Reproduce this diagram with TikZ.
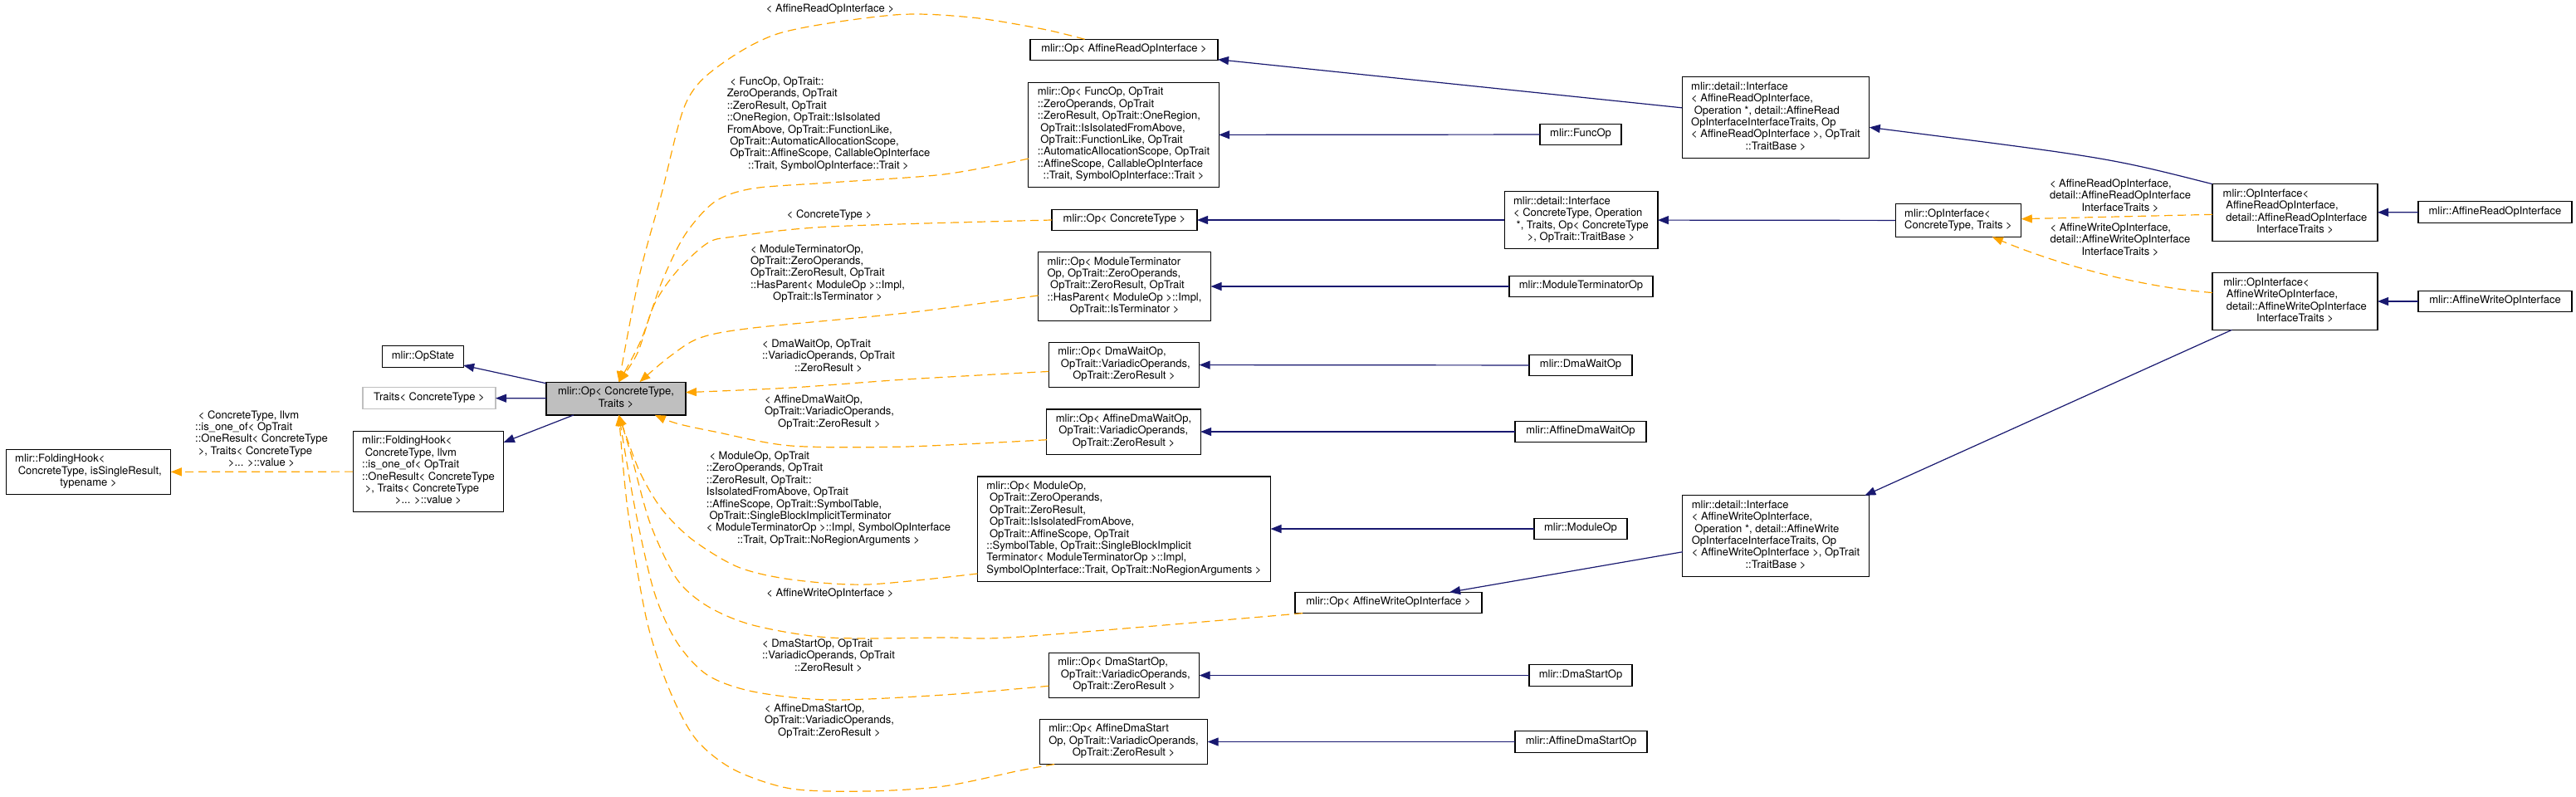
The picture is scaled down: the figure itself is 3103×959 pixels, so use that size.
\documentclass[tikz,border=0pt]{standalone}
\usepackage{fontspec}
\setmainfont{TeX Gyre Heros}
\usepackage{tikz}
\usetikzlibrary{arrows.meta}
\definecolor{edgeblue}{RGB}{25,25,112}
\definecolor{edgeorange}{RGB}{255,165,0}
\definecolor{boxgray}{RGB}{191,191,191}
\newcommand{\lines}[1]{\begin{tabular}{@{}l@{}}#1\end{tabular}}
\newcommand{\lastln}[1]{\multicolumn{1}{@{}c@{}}{#1}}

\begin{document}
\begin{tikzpicture}[x=1pt,y=-1pt,
    font=\fontsize{13}{14.4}\selectfont,
    cls/.style={draw=black,line width=1.2pt,fill=white,inner xsep=11pt,inner ysep=5.5pt,outer sep=0pt},
    one/.style={cls,minimum width=#1,minimum height=25pt},
    lbl/.style={inner sep=0pt},
    inh/.style={draw=edgeblue,line width=1.2pt,-{Triangle[length=13pt,width=10pt]}},
    tmpl/.style={draw=edgeorange,line width=1.2pt,dash pattern=on 10pt off 6pt,-{Triangle[length=13pt,width=10pt]}}]
    \useasboundingbox (0,0) rectangle (3103,959);

    % left part
    \node[cls] (fhBase) at (106.5,568.5) {\lines{mlir::FoldingHook<\\\ ConcreteType, isSingleResult,\\\lastln{typename >}}};
    \node[cls] (fhInst) at (516,568) {\lines{mlir::FoldingHook<\\\ ConcreteType, llvm\\::is\_one\_of< OpTrait\\::OneResult< ConcreteType\\\ >, Traits< ConcreteType\\\lastln{>... >::value >}}};
    \node[one=97pt] (opState) at (509.5,429.5) {\lines{mlir::OpState}};
    \node[one=160pt,draw=boxgray] (traits) at (517,479.5) {\lines{Traits< ConcreteType >}};
    \node[cls,fill=boxgray,minimum width=168pt] (op) at (742,480) {\lines{mlir::Op< ConcreteType,\\\lastln{Traits >}}};

    % instantiations of Op
    \node[one=226pt] (opAffRead) at (1354,60) {\lines{mlir::Op< AffineReadOpInterface >}};
    \node[cls] (opFunc) at (1353.5,162.5) {\lines{mlir::Op< FuncOp, OpTrait\\::ZeroOperands, OpTrait\\::ZeroResult, OpTrait::OneRegion,\\\ OpTrait::IsIsolatedFromAbove,\\\ OpTrait::FunctionLike, OpTrait\\::AutomaticAllocationScope, OpTrait\\::AffineScope, CallableOpInterface\\\lastln{::Trait, SymbolOpInterface::Trait >}}};
    \node[one=175pt] (opConc) at (1354.5,265) {\lines{mlir::Op< ConcreteType >}};
    \node[cls] (opModTerm) at (1354.5,345) {\lines{mlir::Op< ModuleTerminator\\Op, OpTrait::ZeroOperands,\\\ OpTrait::ZeroResult, OpTrait\\::HasParent< ModuleOp >::Impl,\\\lastln{OpTrait::IsTerminator >}}};
    \node[cls] (opDmaWait) at (1354,439.5) {\lines{mlir::Op< DmaWaitOp,\\\ OpTrait::VariadicOperands,\\\lastln{OpTrait::ZeroResult >}}};
    \node[cls] (opAffDmaWait) at (1353.5,520) {\lines{mlir::Op< AffineDmaWaitOp,\\\ OpTrait::VariadicOperands,\\\lastln{OpTrait::ZeroResult >}}};
    \node[cls] (opModule) at (1354,637) {\lines{mlir::Op< ModuleOp,\\\ OpTrait::ZeroOperands,\\\ OpTrait::ZeroResult,\\\ OpTrait::IsIsolatedFromAbove,\\\ OpTrait::AffineScope, OpTrait\\::SymbolTable, OpTrait::SingleBlockImplicit\\Terminator< ModuleTerminatorOp >::Impl,\\\lastln{SymbolOpInterface::Trait, OpTrait::NoRegionArguments >}}};
    \node[one=225pt] (opAffWrite) at (1672.5,726) {\lines{mlir::Op< AffineWriteOpInterface >}};
    \node[cls] (opDmaStart) at (1354,813.5) {\lines{mlir::Op< DmaStartOp,\\\ OpTrait::VariadicOperands,\\\lastln{OpTrait::ZeroResult >}}};
    \node[cls] (opAffDmaStart) at (1353.5,893.5) {\lines{mlir::Op< AffineDmaStart\\Op, OpTrait::VariadicOperands,\\\lastln{OpTrait::ZeroResult >}}};

    % concrete ops
    \node[one=98pt] (funcOp) at (1904,162) {\lines{mlir::FuncOp}};
    \node[cls] (ifaceConc) at (1904.5,265) {\lines{mlir::detail::Interface\\< ConcreteType, Operation\\\ *, Traits, Op< ConcreteType\\\lastln{>, OpTrait::TraitBase >}}};
    \node[one=173pt] (modTermOp) at (1904.5,345) {\lines{mlir::ModuleTerminatorOp}};
    \node[one=124pt] (dmaWaitOp) at (1904,440) {\lines{mlir::DmaWaitOp}};
    \node[one=158pt] (affDmaWaitOp) at (1904,520) {\lines{mlir::AffineDmaWaitOp}};
    \node[one=112pt] (moduleOp) at (1904,637) {\lines{mlir::ModuleOp}};
    \node[one=124pt] (dmaStartOp) at (1904,813.5) {\lines{mlir::DmaStartOp}};
    \node[one=159pt] (affDmaStartOp) at (1904.5,893.5) {\lines{mlir::AffineDmaStartOp}};

    % interfaces
    \node[cls] (ifaceRead) at (2139,141.5) {\lines{mlir::detail::Interface\\< AffineReadOpInterface,\\\ Operation *, detail::AffineRead\\OpInterfaceInterfaceTraits, Op\\< AffineReadOpInterface >, OpTrait\\\lastln{::TraitBase >}}};
    \node[cls] (ifaceWrite) at (2139,645.5) {\lines{mlir::detail::Interface\\< AffineWriteOpInterface,\\\ Operation *, detail::AffineWrite\\OpInterfaceInterfaceTraits, Op\\< AffineWriteOpInterface >, OpTrait\\\lastln{::TraitBase >}}};
    \node[cls] (opIface) at (2359,265.5) {\lines{mlir::OpInterface<\\\lastln{ConcreteType, Traits >}}};
    \node[cls,minimum width=199pt] (opIfaceRead) at (2764.5,256) {\lines{mlir::OpInterface<\\\ AffineReadOpInterface,\\\ detail::AffineReadOpInterface\\\lastln{InterfaceTraits >}}};
    \node[cls,minimum width=199pt] (opIfaceWrite) at (2764.5,363) {\lines{mlir::OpInterface<\\\ AffineWriteOpInterface,\\\ detail::AffineWriteOpInterface\\\lastln{InterfaceTraits >}}};
    \node[one=185pt] (affReadIface) at (3005.5,255.5) {\lines{mlir::AffineReadOpInterface}};
    \node[one=185pt] (affWriteIface) at (3005.5,363) {\lines{mlir::AffineWriteOpInterface}};

    % edge labels
    \node[lbl] (lFh) at (315,530) {\lines{\ < ConcreteType, llvm\\::is\_one\_of< OpTrait\\::OneResult< ConcreteType\\\ >, Traits< ConcreteType\\\lastln{>... >::value >}}};
    \node[lbl] (lAffRead) at (1000,12) {\lines{< AffineReadOpInterface >}};
    \node[lbl] (lFunc) at (998,150) {\lines{\ < FuncOp, OpTrait::\\ZeroOperands, OpTrait\\::ZeroResult, OpTrait\\::OneRegion, OpTrait::IsIsolated\\FromAbove, OpTrait::FunctionLike,\\\ OpTrait::AutomaticAllocationScope,\\\ OpTrait::AffineScope, CallableOpInterface\\\lastln{::Trait, SymbolOpInterface::Trait >}}};
    \node[lbl] (lConc) at (999,260) {\lines{< ConcreteType >}};
    \node[lbl] (lModTerm) at (997,330) {\lines{< ModuleTerminatorOp,\\OpTrait::ZeroOperands,\\OpTrait::ZeroResult, OpTrait\\::HasParent< ModuleOp >::Impl,\\\lastln{OpTrait::IsTerminator >}}};
    \node[lbl] (lDmaWait) at (998,430) {\lines{< DmaWaitOp, OpTrait\\::VariadicOperands, OpTrait\\\lastln{::ZeroResult >}}};
    \node[lbl] (lAffDmaWait) at (999,497) {\lines{< AffineDmaWaitOp,\\OpTrait::VariadicOperands,\\\lastln{OpTrait::ZeroResult >}}};
    \node[lbl] (lModule) at (998,601) {\lines{\ < ModuleOp, OpTrait\\::ZeroOperands, OpTrait\\::ZeroResult, OpTrait::\\IsIsolatedFromAbove, OpTrait\\::AffineScope, OpTrait::SymbolTable,\\\ OpTrait::SingleBlockImplicitTerminator\\< ModuleTerminatorOp >::Impl, SymbolOpInterface\\\lastln{::Trait, OpTrait::NoRegionArguments >}}};
    \node[lbl] (lAffWrite) at (1000,716) {\lines{< AffineWriteOpInterface >}};
    \node[lbl] (lDmaStart) at (998,791) {\lines{< DmaStartOp, OpTrait\\::VariadicOperands, OpTrait\\\lastln{::ZeroResult >}}};
    \node[lbl] (lAffDmaStart) at (999,869) {\lines{< AffineDmaStartOp,\\OpTrait::VariadicOperands,\\\lastln{OpTrait::ZeroResult >}}};
    \node[lbl] (lIfRead) at (2554,237) {\lines{< AffineReadOpInterface,\\detail::AffineReadOpInterface\\\lastln{InterfaceTraits >}}};
    \node[lbl] (lIfWrite) at (2554,290) {\lines{< AffineWriteOpInterface,\\detail::AffineWriteOpInterface\\\lastln{InterfaceTraits >}}};

    % inheritance
    \draw[inh] (op) -- (opState);
    \draw[inh] (op) -- (traits);
    \draw[inh] (op) -- (fhInst);
    \draw[inh] (funcOp) -- (opFunc);
    \draw[inh] (ifaceConc) -- (opConc);
    \draw[inh] (modTermOp) -- (opModTerm);
    \draw[inh] (dmaWaitOp) -- (opDmaWait);
    \draw[inh] (affDmaWaitOp) -- (opAffDmaWait);
    \draw[inh] (moduleOp) -- (opModule);
    \draw[inh] (dmaStartOp) -- (opDmaStart);
    \draw[inh] (affDmaStartOp) -- (opAffDmaStart);
    \draw[inh] (ifaceRead) -- (opAffRead);
    \draw[inh] (ifaceWrite) -- (opAffWrite);
    \draw[inh] (opIface) -- (ifaceConc);
    \draw[inh] (opIfaceRead.north west) .. controls (2540,190) .. (ifaceRead.-6);
    \draw[inh] (opIfaceWrite) -- (ifaceWrite);
    \draw[inh] (affReadIface) -- (opIfaceRead);
    \draw[inh] (affWriteIface) -- (opIfaceWrite);

    % template arguments
    \draw[tmpl] (fhInst) -- (fhBase);
    \draw[tmpl] (opIfaceRead) -- (opIface);
    \draw[tmpl] (opIfaceWrite.174) .. controls (2570,345) and (2470,315) .. (opIface.-26);
    \draw[tmpl] plot[smooth] coordinates {(opAffRead.165) (1256,35) (1170,21) (1077,18) (939,40) (861,83) (825,127) (797,233) (770,333) (op.80)};
    \draw[tmpl] plot[smooth] coordinates {(opFunc.194) (1137,210) (999,220) (907,227) (861,243) (825,283) (797,340) (772,410) (op.80)};
    \draw[tmpl] plot[smooth] coordinates {(opConc.west) (999,273) (884,285) (852,293) (815,327) (788,367) (768,425) (op.80)};
    \draw[tmpl] plot[smooth] coordinates {(opModTerm.186) (1091,377) (907,395) (843,407) (806,430) (op.35)};
    \draw[tmpl] plot[smooth] coordinates {(opDmaWait.185) (1091,457) (953,467) (op.5)};
    \draw[tmpl] plot[smooth] coordinates {(opAffDmaWait.186) (1091,538) (953,537) (861,520) (815,510) (op.-23)};
    \draw[tmpl] plot[smooth] coordinates {(opModule.197) (1045,704) (953,698) (889,683) (834,650) (797,613) (770,567) (op.-80)};
    \draw[tmpl] plot[smooth] coordinates {(opAffWrite.187) (1230,767) (1137,768) (999,768) (907,753) (852,730) (815,697) (783,630) (760,547) (op.-80)};
    \draw[tmpl] plot[smooth] coordinates {(opDmaStart.188) (1137,837) (999,843) (907,833) (852,813) (815,773) (788,713) (765,613) (op.-80)};
    \draw[tmpl] plot[smooth] coordinates {(opAffDmaStart.198) (1229,928) (1137,947) (1045,953) (953,950) (884,927) (838,890) (806,830) (779,747) (756,613) (op.-80)};
\end{tikzpicture}
\end{document}
